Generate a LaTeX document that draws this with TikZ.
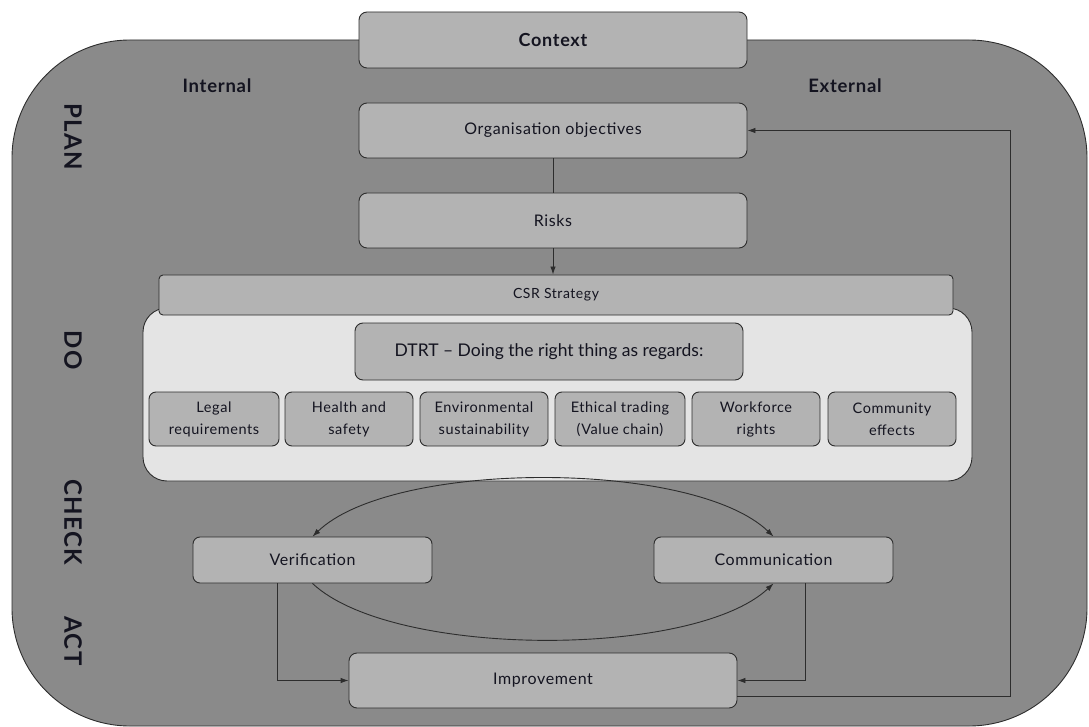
\documentclass[tikz,border=0pt]{standalone}
\usepackage{fontspec}
\setmainfont{Lato}
\newfontfamily\wide{Lato}[LetterSpace=4.0]
\newfontfamily\wider{Lato}[LetterSpace=6.0]
\usetikzlibrary{arrows.meta,calc}
\definecolor{outergray}{RGB}{138,138,138}
\definecolor{boxgray}{RGB}{179,179,179}
\definecolor{panelgray}{RGB}{228,228,228}
\definecolor{edge}{RGB}{45,45,45}
\definecolor{ink}{RGB}{20,20,32}
\begin{document}
\begin{tikzpicture}[x=1pt,y=-1pt,
  box/.style={draw=edge, fill=boxgray, rounded corners=8pt, line width=0.9pt,
    text=ink, align=center, inner sep=0pt, font=\wide\fontsize{16}{18}\selectfont},
  smallbox/.style={box, rounded corners=7pt, minimum width=128pt, minimum height=54pt,
    font=\wide\fontsize{14.5}{22}\selectfont},
  phase/.style={rotate=-90, text=ink, font=\wider\bfseries\fontsize{24}{24}\selectfont},
  side/.style={text=ink, font=\wide\bfseries\fontsize{18.5}{20}\selectfont},
  link/.style={draw=edge, line width=0.9pt},
  tip/.style={-{Latex[length=8pt,width=5.5pt]}}
]
\useasboundingbox (0,0) rectangle (1089,727);

% outer context frame
\draw[draw=edge, fill=outergray, line width=0.9pt, rounded corners=118pt]
  (12,40) rectangle (1087,726);

% phase labels and sides
\node[phase] (plan) at (73,137) {PLAN};
\node[phase] (do) at (73,350) {DO};
\node[phase] (check) at (73,522) {CHECK};
\node[phase] (act) at (73,641) {ACT};
\node[side] (internal) at (217,86) {Internal};
\node[side] (external) at (845,86) {External};

% top column
\node[box, minimum width=388pt, minimum height=56pt, font=\wide\bfseries\fontsize{18}{20}\selectfont]
  (context) at (553,40) {Context};
\node[box, minimum width=388pt, minimum height=55pt] (org) at (553,130.5) {Organisation objectives};
\node[box, minimum width=388pt, minimum height=55pt] (risks) at (553,220.5) {Risks};

% DTRT panel
\draw[draw=edge, fill=panelgray, line width=0.9pt, rounded corners=24pt]
  (143,308) rectangle (972,481);
\node[box, rounded corners=4pt, minimum width=794pt, minimum height=40pt,
  font=\wide\fontsize{14}{16}\selectfont] (csr) at (556,295) {CSR Strategy};
\node[box, minimum width=388pt, minimum height=57pt, font=\fontsize{17.5}{19}\selectfont]
  (dtrt) at (549,351.5) {DTRT -- Doing the right thing as regards:};

\node[smallbox, minimum width=130pt] (legal) at (214,419) {Legal\\requirements};
\node[smallbox] (health) at (349,419) {Health and\\safety};
\node[smallbox] (env) at (484,419) {Environmental\\sustainability};
\node[smallbox, minimum width=130pt] (ethic) at (620,419) {Ethical trading\\(Value chain)};
\node[smallbox] (work) at (756,419) {Workforce\\rights};
\node[smallbox] (comm) at (892,419) {Community\\effects};

% check / act
\node[box, rounded corners=7pt, minimum width=239pt, minimum height=46pt] (ver) at (312.5,560) {Verification};
\node[box, rounded corners=7pt, minimum width=239pt, minimum height=46pt] (com) at (773.5,560) {Communication};
\node[box, minimum width=388pt, minimum height=55pt] (imp) at (543,680.5) {Improvement};

% connectors
\draw[link] (org.south) -- (risks.north);
\draw[link, tip] (risks.south) -- (risks.south |- csr.north);
\draw[link, {Latex[length=8pt,width=5.5pt]}-{Latex[length=8pt,width=5.5pt]}]
  (ver.north) .. controls +(80,-77) and +(-80,-77) .. (com.north);
\draw[link, tip]
  (ver.south) .. controls +(80,75) and +(-80,75) .. (com.south);
\draw[link, tip] ([xshift=-35pt]ver.south) |- (imp.west);
\draw[link, tip] ([xshift=32pt]com.south) |- (imp.east);
\draw[link, tip] ([yshift=-16pt]imp.east) -- ++(273,0) |- (org.east);
\end{tikzpicture}
\end{document}
